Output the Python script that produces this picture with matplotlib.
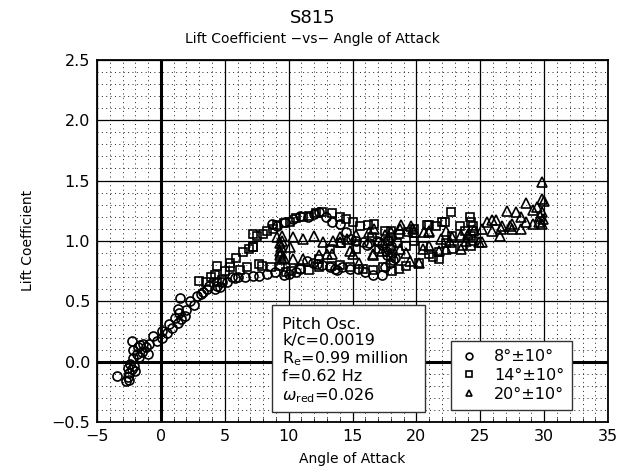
import numpy as np
import matplotlib
matplotlib.use('Agg')
import matplotlib.pyplot as plt
from matplotlib.ticker import MultipleLocator
from matplotlib.patches import Rectangle

# 8 deg +/- 10 deg
circ_x = [-3.4, -2.7, -2.6, -2.5, -2.6, -2.3, -2.4, -2.1, -2.0, -2.2, -1.9, -2.3, -1.8, -1.6,
          -1.4, -1.2, -1.5, -1.0, -0.6, -0.3, 0.1, 0.1, 0.5, 0.6, 1.1, 1.3, 1.6, 1.3, 1.4, 2.0,
          1.5, 2.3, 2.8, 3.1, 3.6, 3.8, 4.2, 4.4, 4.8, 5.2,
          8.7, 9.1, 9.7, 10.3, 10.9, 11.5, 12.0, 12.4, 12.9, 13.4, 14.0, 14.5, 14.9, 15.3,
          15.8, 16.3, 16.9, 17.3, 17.8, 18.0, 17.9, 18.1, 18.3, 17.7, 17.9, 17.5, 17.3,
          16.6, 16.0, 15.4, 14.8, 14.2, 13.6, 13.2, 12.6, 11.9, 11.4, 10.9, 10.6, 10.0,
          9.6, 8.9, 8.3, 7.7, 7.2, 6.6, 6.0, 5.6, 18.2, 17.6, 18.0,
          -2.5, -2.2, -1.7, -0.9, 0.9, 1.9, 2.6, 3.3, 4.6, 5.8, 12.2, 13.8, 16.1, 17.1]
circ_y = [-0.12, -0.16, -0.13, -0.09, -0.05, -0.06, -0.02, -0.04, -0.08, 0.03, 0.06, 0.17, 0.12, 0.14,
          0.15, 0.12, 0.08, 0.06, 0.21, 0.17, 0.20, 0.25, 0.24, 0.31, 0.36, 0.32, 0.35, 0.44, 0.40, 0.43,
          0.53, 0.50, 0.54, 0.56, 0.60, 0.63, 0.60, 0.63, 0.66, 0.66,
          1.14, 1.12, 1.16, 1.18, 1.21, 1.20, 1.22, 1.24, 1.20, 1.16, 1.14, 1.07, 1.02, 1.00,
          0.99, 0.98, 1.00, 0.97, 1.00, 0.96, 0.94, 0.90, 0.86, 0.88, 0.82, 0.78, 0.72,
          0.72, 0.74, 0.77, 0.77, 0.78, 0.77, 0.78, 0.80, 0.82, 0.83, 0.77, 0.74, 0.73,
          0.72, 0.74, 0.73, 0.71, 0.71, 0.70, 0.70, 0.70, 0.84, 0.92, 1.03,
          -0.15, 0.10, 0.04, 0.15, 0.28, 0.38, 0.47, 0.58, 0.62, 0.69, 0.81, 0.76, 0.97, 0.99]

# 14 deg +/- 10 deg
sq_x = [3.0, 3.5, 3.9, 4.2, 4.4, 4.8, 4.4, 5.0, 5.4, 5.9, 6.4, 6.9, 7.2, 7.5, 8.0, 8.3, 8.8,
        9.1, 9.6, 10.1, 10.6, 11.1, 11.6, 12.1, 12.6, 13.4, 14.0, 14.5, 15.0, 15.6, 16.2, 16.7,
        17.5, 18.0, 18.6, 19.3, 19.8, 20.8, 21.0, 21.5, 22.0, 22.2, 22.7, 23.4, 23.8, 24.2,
        24.3, 24.4, 24.4, 24.3, 24.4, 24.3, 23.6, 22.8, 22.8, 22.3, 21.8, 21.8, 21.0, 21.3,
        20.2, 19.2, 18.6, 18.1, 17.4, 16.6, 15.8, 14.8, 14.0, 13.3, 12.4, 11.6, 10.9, 10.2,
        9.8, 9.3, 8.6, 7.7, 6.7, 6.2, 5.4, 19.2, 18.0, 17.1, 15.3, 14.1, 13.2, 12.4, 16.5,
        17.8, 18.5, 19.8, 20.5, 7.2, 7.2, 7.9]
sq_y = [0.67, 0.66, 0.70, 0.72, 0.66, 0.68, 0.79, 0.75, 0.82, 0.86, 0.91, 0.93, 0.95, 1.04, 1.06, 1.08, 1.10,
        1.13, 1.15, 1.16, 1.19, 1.20, 1.21, 1.23, 1.24, 1.23, 1.20, 1.18, 1.16, 1.12, 1.13, 1.14,
        1.08, 1.08, 1.06, 1.07, 1.10, 1.13, 1.13, 1.12, 1.16, 1.16, 1.24, 1.12, 1.08, 1.20,
        1.16, 1.12, 1.08, 1.04, 1.00, 0.96, 0.96, 0.93, 1.04, 0.98, 0.91, 0.85, 0.89, 0.87,
        0.82, 0.79, 0.77, 0.75, 0.78, 0.76, 0.77, 0.78, 0.80, 0.79, 0.78, 0.76, 0.77, 0.75,
        0.74, 0.79, 0.78, 0.81, 0.78, 0.76, 0.78, 0.96, 0.87, 0.93, 0.93, 0.98, 0.93, 0.85, 1.03,
        1.00, 0.98, 1.00, 0.96, 1.06, 0.95, 0.79]

# 20 deg +/- 10 deg
tri_x = [9.3, 9.3, 9.4, 9.3, 9.5, 9.4, 9.6, 9.1, 9.5, 10.1, 10.3, 11.1, 12.0, 12.7, 13.5, 14.0,
         14.6, 15.3, 16.3, 16.7, 17.5, 18.0, 18.7, 19.6, 19.8, 20.6, 21.0, 21.9, 22.3, 22.8,
         23.5, 24.0, 24.5, 25.1, 25.5, 25.9, 26.2, 26.7, 27.1, 27.5, 27.8, 28.2, 28.6, 29.1,
         29.4, 29.8, 30.0, 29.8, 29.8, 29.7, 29.9, 29.6, 29.8, 29.1, 28.6, 28.2, 27.5, 27.3,
         26.6, 26.5, 25.9, 25.1, 24.9, 23.9, 23.5, 22.6, 21.8, 20.5, 20.2, 19.5, 19.2, 18.7,
         17.3, 16.6, 15.5, 14.8, 13.4, 13.0, 12.4, 11.1, 10.3, 9.5, 14.0, 15.0, 16.6, 18.8,
         19.7, 21.0, 21.0, 22.3]
tri_y = [0.88, 0.92, 0.95, 0.98, 1.00, 0.90, 0.86, 1.03, 1.04, 0.95, 1.03, 1.02, 1.04, 0.99, 1.00, 1.03,
         1.02, 1.05, 1.07, 1.10, 1.05, 1.07, 1.10, 1.12, 1.07, 1.07, 1.07, 1.02, 1.08, 1.03,
         1.05, 1.06, 1.09, 1.10, 1.16, 1.17, 1.17, 1.12, 1.25, 1.14, 1.24, 1.20, 1.31, 1.26,
         1.28, 1.35, 1.33, 1.49, 1.24, 1.21, 1.18, 1.16, 1.14, 1.14, 1.16, 1.10, 1.10, 1.12,
         1.10, 1.04, 1.08, 0.99, 0.99, 1.00, 0.93, 0.99, 0.92, 0.93, 0.82, 0.83, 0.90, 0.93,
         0.92, 0.88, 0.82, 0.92, 0.89, 0.89, 0.88, 0.85, 0.85, 0.85, 0.99, 0.89, 0.89, 1.13,
         1.10, 1.08, 0.96, 0.93]

labels = ['8°±10°', '14°±10°', '20°±10°']
info = ['Pitch Osc.', 'k/c=0.0019', r'R$_{\rm e}$=0.99 million', 'f=0.62 Hz',
        r'$\omega_{\rm red}$=0.026']
xticks = [-5, 0, 5, 10, 15, 20, 25, 30, 35]
yticks = [-0.5, 0.0, 0.5, 1.0, 1.5, 2.0, 2.5]

fig = plt.figure(figsize=(6.18, 4.71), dpi=100)
ax = fig.add_axes([0.157, 0.104, 0.827, 0.769])

ax.set_xlim(-5, 35)
ax.set_ylim(-0.5, 2.5)
ax.set_xticks(xticks)
ax.set_xticklabels([str(t).replace('-', '−') for t in xticks])
ax.set_yticks(yticks)
ax.set_yticklabels([f'{t:.1f}'.replace('-', '−') for t in yticks])
ax.xaxis.set_minor_locator(MultipleLocator(1))
ax.yaxis.set_minor_locator(MultipleLocator(0.1))
ax.grid(which='major', color='black', linewidth=0.9, linestyle='-')
ax.grid(which='minor', color='#222222', linewidth=0.7, linestyle=(0, (1, 3.5)))
ax.set_axisbelow(True)
ax.tick_params(which='both', direction='in', labelsize=11.5)
ax.tick_params(which='major', length=0, pad=5)
ax.tick_params(axis='x', which='minor', length=3)
ax.tick_params(axis='y', which='minor', length=0)
for s in ax.spines.values():
    s.set_linewidth(1.3)

ax.axvline(0, color='black', linewidth=2.2, zorder=1.5)
ax.axhline(0, color='black', linewidth=2.2, zorder=1.5)

mk = dict(linestyle='none', markerfacecolor='none', markeredgecolor='black', markeredgewidth=1.2)
ax.plot(circ_x, circ_y, marker='o', markersize=6.5, label=labels[0], **mk)
ax.plot(sq_x, sq_y, marker='s', markersize=6, label=labels[1], **mk)
ax.plot(tri_x, tri_y, marker='^', markersize=6.5, label=labels[2], **mk)

# info box
ax.add_patch(Rectangle((8.7, -0.42), 12.0, 0.89, facecolor='white', edgecolor='#333333',
                       linewidth=1.0, zorder=3))
ax.text(9.5, 0.37, '\n'.join(info), fontsize=11.5, va='top', ha='left', zorder=4,
        linespacing=1.1)

leg = ax.legend(loc='lower right', bbox_to_anchor=(0.93, 0.033), fontsize=11.5,
                fancybox=False, framealpha=1, edgecolor='#333333', handletextpad=1.0,
                borderpad=0.5, labelspacing=0.25, handlelength=1.2, markerscale=0.75,
                borderaxespad=0)
leg.get_frame().set_linewidth(1.0)
leg.set_zorder(5)

fig.text(0.506, 0.962, 'S815', ha='center', va='center', fontsize=13)
fig.text(0.506, 0.918, 'Lift Coefficient −vs− Angle of Attack', ha='center', va='center',
         fontsize=10)
ax.set_xlabel('Angle of Attack', fontsize=10, labelpad=6)
ax.set_ylabel('Lift Coefficient', fontsize=10, labelpad=12)

fig.savefig('out.png', dpi=100)
